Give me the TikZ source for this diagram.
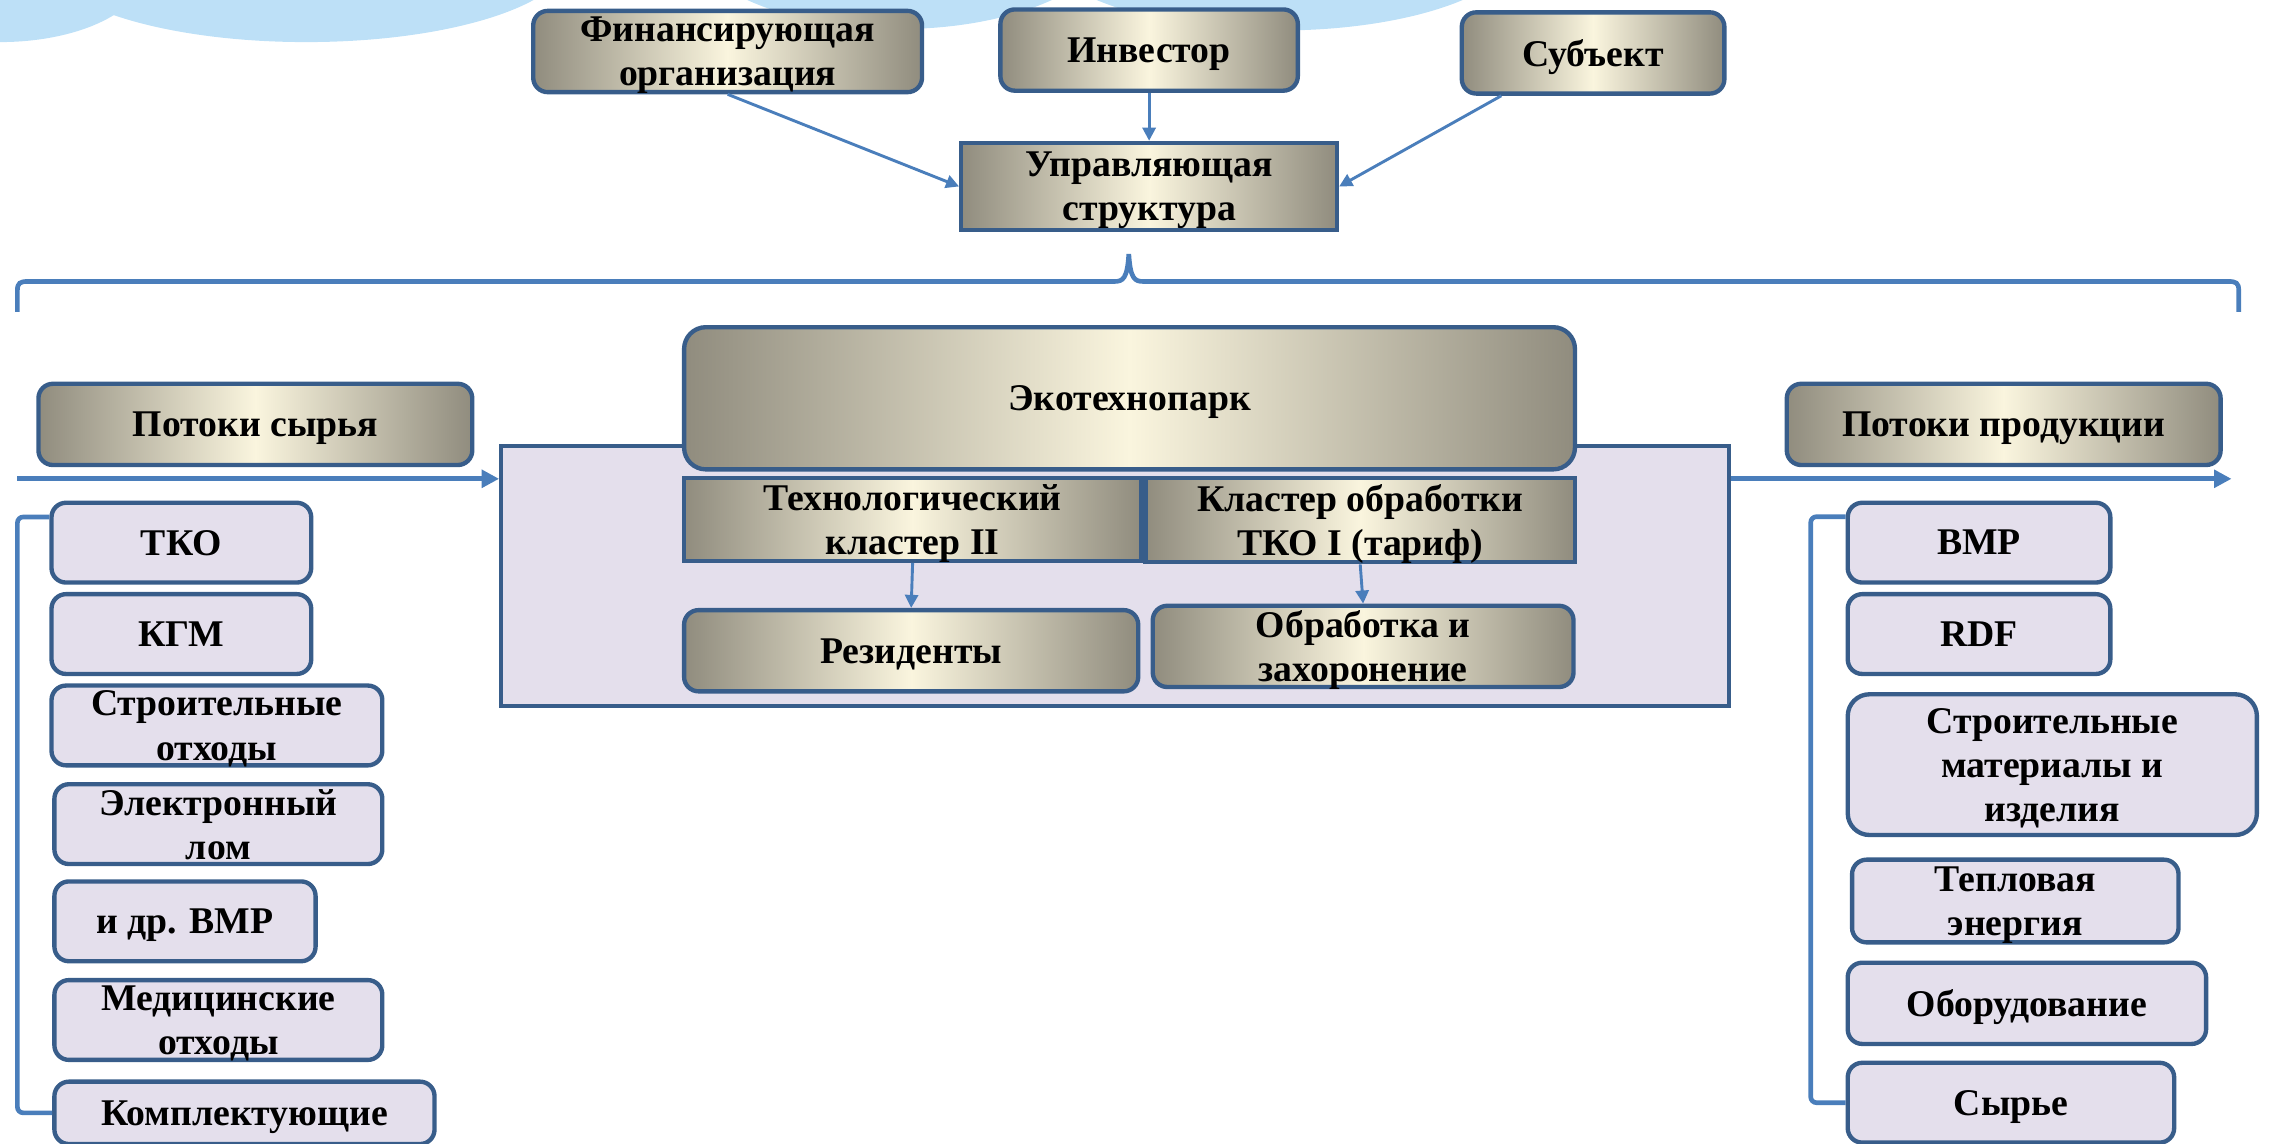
\documentclass[tikz,border=0pt]{standalone}
\usepackage{fontspec}
\setmainfont{Liberation Serif}
\usetikzlibrary{arrows.meta}

\definecolor{edge}{RGB}{56,93,138}
\definecolor{link}{RGB}{74,126,187}
\definecolor{lilac}{RGB}{228,223,236}
\definecolor{brassdark}{RGB}{144,140,126}
\definecolor{brasslight}{RGB}{250,245,222}
\definecolor{sky}{RGB}{189,224,247}

\begin{document}
\begin{tikzpicture}[x=0.5pt, y=-0.5pt,
  every node/.style={font=\fontsize{13}{15.2}\selectfont\bfseries, align=center, inner sep=1pt, text depth=-1.5pt},
  brass/.style={draw=edge, line width=1.5pt, left color=brassdark, right color=brassdark, middle color=brasslight},
  brassround/.style={brass, rounded corners=5pt},
  item/.style={draw=edge, line width=1.5pt, fill=lilac, rounded corners=5pt, minimum height=27.5pt},
  arr/.style={draw=link, line width=1pt, -{Triangle[length=4.5pt,width=4.5pt]}},
  flow/.style={draw=link, line width=1.6pt, -{Triangle[length=6pt,width=6pt]}},
  bracket/.style={draw=link, line width=1.6pt, rounded corners=2pt}]

\useasboundingbox (0,0) rectangle (1568,788);

\fill[sky] (0,-20) ellipse [x radius=100, y radius=49];
\fill[sky] (211,-30) ellipse [x radius=182, y radius=59];
\fill[sky] (620,-50) ellipse [x radius=150, y radius=70];
\fill[sky] (882,-39) ellipse [x radius=166, y radius=60];

\node[brassround, minimum width=134pt, minimum height=28pt] (fin) at (501.5,35.5) {Финансирующая\\организация};
\node[brassround, minimum width=102.5pt, minimum height=28pt] (inv) at (792,34.5) {Инвестор};
\node[brassround, minimum width=90.5pt, minimum height=28pt] (sub) at (1098,36.5) {Субъект};
\node[brass, minimum width=129.5pt, minimum height=30pt] (upr) at (792,128.5) {Управляющая\\структура};

\draw[arr] (fin.south) -- (upr.west);
\draw[arr] (inv.south) -- (upr.north);
\draw[arr] (sub.205) -- (upr.east);

\draw[link, line width=1.6pt] (12,215) -- (12,200) .. controls (12,195) and (14,194) .. (19,194)
  -- (768,194) .. controls (774,194) and (777,192) .. (778,175)
  .. controls (779,192) and (782,194) .. (788,194)
  -- (1536,194) .. controls (1541,194) and (1543,195) .. (1543,200) -- (1543,215);

\node[draw=edge, line width=1.5pt, fill=lilac, minimum width=423pt, minimum height=89.5pt] (frame) at (768.5,397) {};
\node[brass, rounded corners=7.5pt, minimum width=307pt, minimum height=49pt] (eco) at (778.5,274.5) {Экотехнопарк};
\node[brass, minimum width=157.5pt, minimum height=28.5pt] (tech) at (629,358) {Технологический\\кластер II};
\node[brass, minimum width=148pt, minimum height=29pt] (klas) at (937.5,358.5) {Кластер обработки\\ТКО I (тариф)};
\node[brassround, minimum width=156.5pt, minimum height=28pt] (rez) at (628,448.5) {Резиденты};
\node[brassround, minimum width=145pt, minimum height=28pt] (obr) at (939.5,445.5) {Обработка и\\захоронение};

\draw[arr] (tech.south) -- (rez.north);
\draw[arr] (klas.south) -- (obr.north);

\node[brassround, minimum width=149.5pt, minimum height=28pt] (inflow) at (176,292.5) {Потоки сырья};
\node[brassround, minimum width=149.5pt, minimum height=28pt] (outflow) at (1381,292.5) {Потоки продукции};

\coordinate (instart) at (12,330);
\coordinate (outend) at (1538,330);
\draw[flow] (instart) -- (instart -| frame.west);
\draw[flow] (outend -| frame.east) -- (outend);

\node[item, minimum width=89.5pt] (tko) at (125,374) {ТКО};
\node[item, minimum width=89.5pt] (kgm) at (125,437) {КГМ};
\node[item, minimum width=114pt] (stro) at (149.5,500) {Строительные\\отходы};
\node[item, minimum width=113pt] (elek) at (150.5,568) {Электронный\\лом};
\node[item, minimum width=90pt] (drvmr) at (127.5,635) {и др. ВМР};
\node[item, minimum width=113pt] (med) at (150.5,703) {Медицинские\\отходы};
\node[item, minimum width=131pt, minimum height=21.5pt] (komp) at (168.5,767) {Комплектующие};

\draw[bracket] (tko.169) -- ++(-22,0) |- (komp.west);

\node[item, minimum width=90.5pt] (vmr) at (1364,374) {ВМР};
\node[item, minimum width=90.5pt] (rdf) at (1364,437) {RDF};
\node[item, rounded corners=7.5pt, minimum width=141pt, minimum height=48.5pt] (smat) at (1414.5,527) {Строительные\\материалы и\\изделия};
\node[item, minimum width=112.5pt, minimum height=28.5pt] (tepl) at (1389,621) {Тепловая\\энергия};
\node[item, minimum width=123.5pt, minimum height=28pt] (obor) at (1397,691.5) {Оборудование};
\node[item, minimum width=112.5pt] (syr) at (1386,760) {Сырье};

\draw[bracket] (vmr.169) -- ++(-24,0) |- (syr.west);
\end{tikzpicture}
\end{document}
